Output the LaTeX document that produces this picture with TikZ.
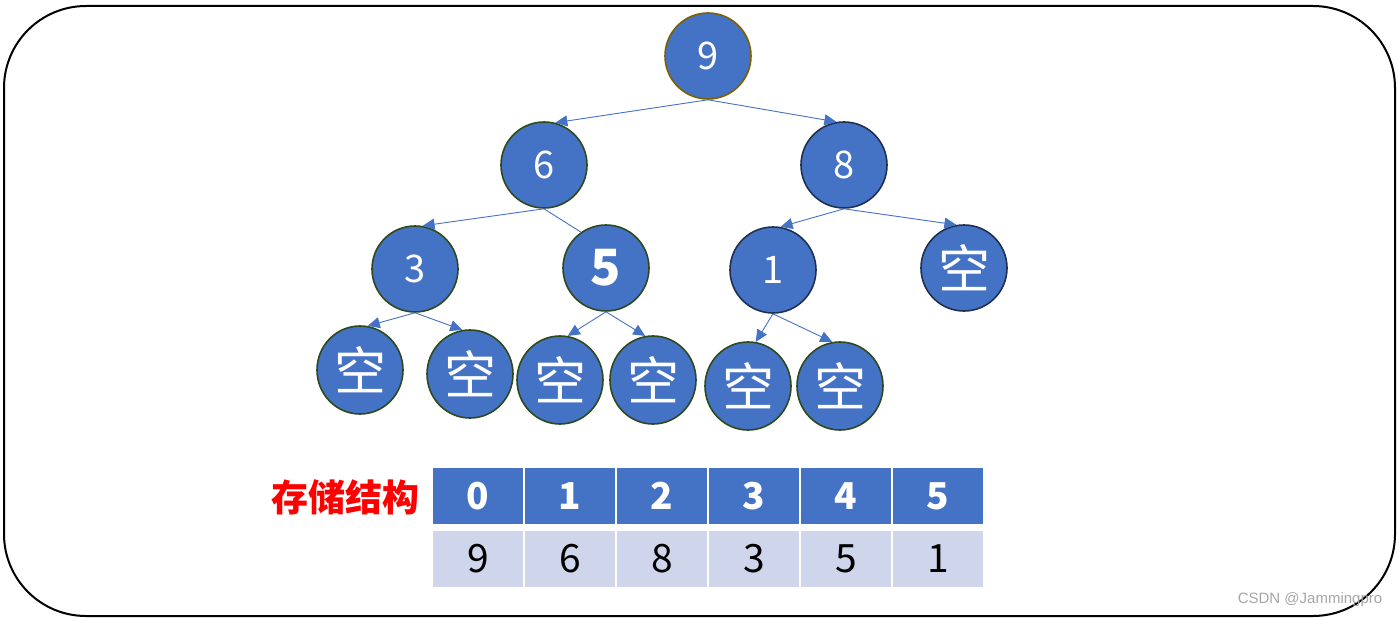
\documentclass[tikz,border=0pt]{standalone}
\usepackage{fontspec}
\newfontfamily\cjk{Noto Sans CJK SC}
\usetikzlibrary{arrows.meta,shapes.geometric}
\definecolor{nodeblue}{HTML}{4472C4}
\definecolor{cellgray}{HTML}{CFD5EA}
\definecolor{bordgreen}{HTML}{2E4A1C}
\definecolor{bordnavy}{HTML}{1F3050}
\definecolor{bordbrown}{HTML}{7F6000}
\definecolor{markgray}{HTML}{A6A6A6}
\tikzset{
  tnode/.style={circle, minimum size=86pt, inner sep=0pt, fill=nodeblue, draw=bordgreen, line width=1.6pt, text=white, font=\cjk\fontsize{38}{40}\selectfont},
  enode/.style={ellipse, minimum width=86pt, minimum height=88pt, inner sep=0pt, fill=nodeblue, draw=bordgreen, line width=1.6pt, text=white, font=\cjk\fontsize{52}{54}\selectfont},
  edge/.style={draw=nodeblue, line width=0.9pt, -{Triangle[length=12pt,width=11pt]}},
  hcell/.style={rectangle, minimum width=90pt, minimum height=56pt, inner sep=0pt, fill=nodeblue, text=white, font=\cjk\bfseries\fontsize{37}{40}\selectfont},
  dcell/.style={rectangle, minimum width=90pt, minimum height=56pt, inner sep=0pt, fill=cellgray, text=black, font=\cjk\fontsize{39}{42}\selectfont}
}
\begin{document}
\begin{tikzpicture}[x=1pt,y=-1pt]
\useasboundingbox (0,0) rectangle (1397,618);
\draw[line width=2pt, rounded corners=82pt] (4,6) rectangle (1395,616);
% tree nodes
\node[tnode, draw=bordbrown] (n9) at (708,56) {9};
\node[tnode] (n6) at (544,165) {6};
\node[tnode, draw=bordnavy] (n8) at (844,165) {8};
\node[tnode] (n3) at (415,269) {3};
\node[tnode, font=\cjk\bfseries\fontsize{50}{52}\selectfont] (n5) at (606,268) {5};
\node[tnode, draw=bordnavy] (n1) at (773,270) {1};
\node[tnode, font=\cjk\fontsize{52}{54}\selectfont, draw=bordnavy] (e0) at (964,268) {空};
\node[enode] (e1) at (360,370) {空};
\node[enode] (e2) at (470,374) {空};
\node[enode] (e3) at (560,380) {空};
\node[enode] (e4) at (653,380) {空};
\node[enode] (e5) at (748,386) {空};
\node[enode] (e6) at (840,386) {空};
% edges
\draw[edge] (n9.south) -- (n6.75);
\draw[edge] (n9.south) -- (n8.100);
\draw[edge] (n6.south) -- (n3.80);
\draw[draw=nodeblue, line width=0.9pt] (n6.south) -- (n5.125);
\draw[edge] (n8.south) -- (n1.80);
\draw[edge] (n8.south) -- (e0.100);
\draw[edge] (n3.south) -- (e1.80);
\draw[edge] (n3.south) -- (e2.100);
\draw[edge] (n5.south) -- (e3.80);
\draw[edge] (n5.south) -- (e4.100);
\draw[edge] (n1.south) -- (e5.80);
\draw[edge] (n1.south) -- (e6.100);
% storage table
\node[text=red, font=\cjk\bfseries\fontsize{37}{40}\selectfont] (lbl) at (345,497) {存储结构};
\foreach \i/\v in {0/9,1/6,2/8,3/3,4/5,5/1}{
  \node[hcell] (h\i) at (478+92*\i,496) {\i};
  \node[dcell] (d\i) at (478+92*\i,559) {\v};
}
\node[text=markgray, font=\fontspec{Liberation Sans}\fontsize{15}{17}\selectfont] (wm) at (1310,600) {CSDN @Jammingpro};
\end{tikzpicture}
\end{document}
